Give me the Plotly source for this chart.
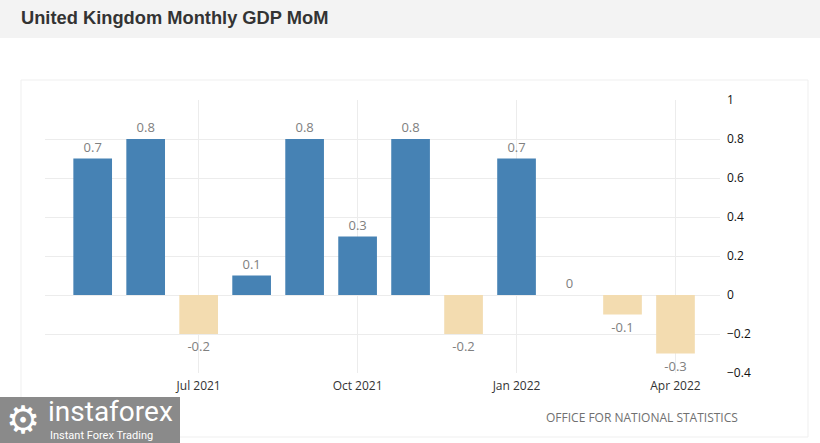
import plotly.graph_objects as go

months = ["May 2021", "Jun 2021", "Jul 2021", "Aug 2021", "Sep 2021", "Oct 2021",
          "Nov 2021", "Dec 2021", "Jan 2022", "Feb 2022", "Mar 2022", "Apr 2022"]
gdp_mom = [0.7, 0.8, -0.2, 0.1, 0.8, 0.3, 0.8, -0.2, 0.7, 0.0, -0.1, -0.3]
x_ticks = ["Jul 2021", "Oct 2021", "Jan 2022", "Apr 2022"]
y_ticks = [-0.4, -0.2, 0, 0.2, 0.4, 0.6, 0.8, 1]

W, H = 820, 443
L, R, T, B = 45, 720, 100, 373

def px(x, y):
    return (x - L) / (R - L), (B - y) / (B - T)

colors = ["#4682b4" if v > 0 else "#f3dcb0" for v in gdp_mom]
labels = [("%g" % v) for v in gdp_mom]

fig = go.Figure()
fig.add_trace(go.Bar(
    x=months, y=gdp_mom, marker=dict(color=colors, line=dict(width=0)),
    width=0.73, text=labels, textposition="outside", cliponaxis=False,
    textfont=dict(family="Open Sans", size=13, color="#808080"),
    hoverinfo="skip",
))

shapes = []
# header band
x0, y0 = px(0, 38); x1, y1 = px(W, 0)
shapes.append(dict(type="rect", xref="paper", yref="paper", x0=x0, y0=y0, x1=x1, y1=y1,
                   fillcolor="#f3f3f3", line=dict(width=0), layer="below"))
# card border
x0, y0 = px(21, 437); x1, y1 = px(808, 80)
shapes.append(dict(type="rect", xref="paper", yref="paper", x0=x0, y0=y0, x1=x1, y1=y1,
                   fillcolor="rgba(0,0,0,0)", line=dict(width=1, color="#efefef"), layer="below"))
# logo box
x0, y0 = px(0, H); x1, y1 = px(180, 397)
shapes.append(dict(type="rect", xref="paper", yref="paper", x0=x0, y0=y0, x1=x1, y1=y1,
                   fillcolor="#8a8a8a", line=dict(width=0), layer="above"))

annotations = []
ax, ay = px(740, 417)
annotations.append(dict(xref="paper", yref="paper", x=ax, y=ay, xanchor="right", yanchor="middle",
                        text="OFFICE FOR NATIONAL STATISTICS", showarrow=False,
                        font=dict(family="Open Sans", size=12, color="#707070")))
ax, ay = px(23, 420)
annotations.append(dict(xref="paper", yref="paper", x=ax, y=ay, xanchor="center", yanchor="middle",
                        text="⚙", showarrow=False,
                        font=dict(family="DejaVu Sans", size=38, color="#ffffff")))
ax, ay = px(46, 411)
annotations.append(dict(xref="paper", yref="paper", x=ax, y=ay, xanchor="left", yanchor="middle",
                        text="instaforex", showarrow=False,
                        font=dict(family="Liberation Sans Narrow, Roboto", size=28, color="#ffffff")))
ax, ay = px(48, 435)
annotations.append(dict(xref="paper", yref="paper", x=ax, y=ay, xanchor="left", yanchor="middle",
                        text="Instant Forex Trading", showarrow=False,
                        font=dict(family="Liberation Sans Narrow, Roboto", size=11, color="#ffffff")))

fig.update_layout(
    width=W, height=H,
    margin=dict(l=L, r=W - R, t=T, b=H - B, pad=0),
    paper_bgcolor="#ffffff", plot_bgcolor="#ffffff",
    showlegend=False,
    title=dict(text="<b>United Kingdom Monthly GDP MoM</b>", x=21 / W, xref="container",
               xanchor="left", y=1 - 17.5 / H, yref="container", yanchor="middle",
               font=dict(family="Liberation Sans, Arial", size=18.3, color="#333333")),
    xaxis=dict(type="category", categoryorder="array", categoryarray=months,
               range=[-0.9, 11.84], tickmode="array", tickvals=x_ticks, ticktext=x_ticks,
               showgrid=True, gridcolor="#ececec", gridwidth=1, zeroline=False,
               showline=False, ticks="", ticklabelstandoff=4,
               tickfont=dict(family="Open Sans", size=12, color="#333333")),
    yaxis=dict(side="right", range=[-0.4, 1], tickmode="array", tickvals=y_ticks,
               showgrid=True, gridcolor="#ececec", gridwidth=1,
               zeroline=True, zerolinecolor="#ececec", zerolinewidth=1,
               showline=False, ticks="", ticklabelstandoff=6,
               tickfont=dict(family="Open Sans", size=12, color="#111111")),
    bargap=0.27,
    shapes=shapes, annotations=annotations,
)

fig.write_html("out.html", config={"displayModeBar": False},
               post_script="document.body.style.margin='0';document.body.style.overflow='hidden';")
